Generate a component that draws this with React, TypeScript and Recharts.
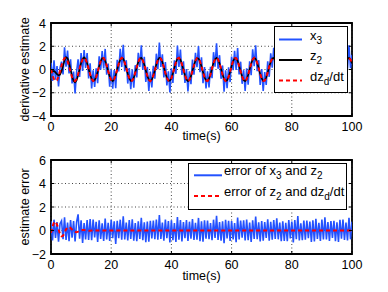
import { LineChart, Line, XAxis, YAxis, CartesianGrid, ReferenceArea, Legend, Label } from 'recharts'

// sample spacing of every series below (s)
const STEP = 0.5

// desired derivative dz_d/dt
const dzdDt = [
  0, -0.48, -0.84, -1, -0.91, -0.6, -0.14, 0.35, 0.76, 0.98,
  0.96, 0.71, 0.28, -0.22, -0.66, -0.94, -0.99, -0.8, -0.41, 0.08,
  0.54, 0.88, 1, 0.88, 0.54, 0.07, -0.42, -0.8, -0.99, -0.93,
  -0.65, -0.21, 0.29, 0.71, 0.96, 0.98, 0.75, 0.34, -0.15, -0.61,
  -0.91, -1, -0.84, -0.47, 0.01, 0.49, 0.85, 1, 0.91, 0.59,
  0.13, -0.36, -0.76, -0.98, -0.96, -0.7, -0.27, 0.22, 0.66, 0.94,
  0.99, 0.79, 0.4, -0.08, -0.55, -0.88, -1, -0.87, -0.53, -0.06,
  0.43, 0.81, 0.99, 0.93, 0.64, 0.2, -0.3, -0.72, -0.96, -0.97,
  -0.75, -0.33, 0.16, 0.61, 0.92, 1, 0.83, 0.46, -0.02, -0.49,
  -0.85, -1, -0.9, -0.58, -0.12, 0.37, 0.77, 0.98, 0.95, 0.69,
  0.26, -0.23, -0.67, -0.94, -0.99, -0.79, -0.4, 0.09, 0.56, 0.89,
  1, 0.87, 0.52, 0.05, -0.44, -0.81, -0.99, -0.93, -0.64, -0.19,
  0.3, 0.72, 0.97, 0.97, 0.74, 0.33, -0.17, -0.62, -0.92, -1,
  -0.83, -0.46, 0.03, 0.5, 0.86, 1, 0.9, 0.58, 0.11, -0.38,
  -0.77, -0.98, -0.95, -0.69, -0.25, 0.24, 0.68, 0.95, 0.99, 0.78,
  0.39, -0.1, -0.57, -0.89, -1, -0.86, -0.51, -0.04, 0.44, 0.82,
  0.99, 0.93, 0.63, 0.18, -0.31, -0.73, -0.97, -0.97, -0.73, -0.32,
  0.18, 0.63, 0.92, 0.99, 0.82, 0.45, -0.04, -0.51, -0.86, -1,
  -0.89, -0.57, -0.11, 0.38, 0.78, 0.98, 0.95, 0.68, 0.25, -0.25,
  -0.68, -0.95, -0.98, -0.78, -0.38, 0.11, 0.57, 0.9, 1, 0.86,
  0.51,
]

// error of z2 and dz_d/dt (red dashed, lower panel): start-up transient then ~0
const errZ2 = [
  -0.2, 0.35, 0.7, 0.75, 0.5, 0.1, -0.3, -0.5, -0.45, -0.2,
  0.1, 0.25, 0.3, 0.22, 0.08, -0.05, -0.12, -0.14, -0.1, -0.04,
  0.02, 0.04, 0.04, 0.02, -0.01, -0.02, -0.02, -0.01, 0, 0.01,
  0.01, 0, -0.01, 0, 0.01, 0, 0, -0.01, 0, 0.01,
  0, 0, 0.01, 0, -0.01, 0, 0, 0, 0.01, 0,
  0, -0.01, 0, 0, 0.01, 0, 0, 0, -0.01, 0,
  0.01, 0, 0, 0, 0, -0.01, 0, 0.01, 0, 0,
  0, 0, 0.01, 0, 0, -0.01, 0, 0, 0, 0.01,
  0, 0, 0, -0.01, 0, 0, 0.01, 0, 0, 0,
  -0.01, 0, 0, 0.01, 0, 0, 0, 0, -0.01, 0,
  0, 0.01, 0, 0, 0, -0.01, 0, 0, 0.01, 0,
  0, 0, 0, 0.01, 0, -0.01, 0, 0, 0, 0,
  0.01, 0, 0, -0.01, 0, 0, 0, 0.01, 0, 0,
  0, -0.01, 0, 0, 0.01, 0, 0, 0, 0, -0.01,
  0, 0, 0.01, 0, 0, 0, -0.01, 0, 0, 0.01,
  0, 0, 0, 0, -0.01, 0, 0.01, 0, 0, 0,
  0, -0.01, 0, 0, 0, 0.01, 0, 0, -0.01, 0,
  0, 0, 0.01, 0, 0, 0, 0, -0.01, 0, 0,
  0.01, 0, 0, 0, -0.01, 0, 0, 0.01, 0, 0,
  0, 0, -0.01, 0, 0.01, 0, 0, 0, 0, 0.01,
  0,
]

// error of x3 and z2 (blue, lower panel): measurement noise
const errX3 = [
  0.78, -0.85, 0.92, -0.63, 0.71, -0.96, 0.58, 0.83, -0.74, 1.12,
  -0.81, 0.67, -0.92, 0.88, -0.61, 0.81, -0.94, 0.72, 1.38, -0.69,
  0.86, -1.05, 0.64, -0.77, 0.88, -0.81, 0.97, -0.82, 0.93, -0.58,
  0.74, -0.97, 0.86, -0.72, 0.61, -0.89, 1.02, -0.77, 0.66, -0.88,
  0.91, -0.66, 0.79, -1.14, 0.83, -0.65, 0.92, -0.78, 1.21, -0.76,
  0.67, -0.84, 0.88, -0.71, 0.95, -0.86, 0.64, -0.91, 0.79, -0.72,
  1.08, -0.83, 0.69, -0.99, 0.77, -0.96, 0.82, -0.68, 0.85, -0.73,
  0.93, -0.79, 1.32, -0.71, 0.67, -0.87, 0.94, -0.65, 0.81, -1.02,
  0.86, -0.82, 0.63, -0.97, 1.15, -0.78, 0.88, -0.93, 0.72, -0.66,
  0.89, -0.88, 0.75, -0.69, 0.97, -0.81, 0.66, -0.78, 1.07, -0.92,
  0.78, -0.95, 0.87, -0.69, 0.84, -0.74, 0.63, -0.83, 0.92, -0.64,
  1.26, -0.81, 0.71, -0.86, 0.79, -1.08, 0.92, -0.67, 0.83, -0.89,
  0.81, -0.77, 0.64, -0.99, 1.11, -0.76, 0.84, -0.62, 0.86, -0.85,
  0.93, -0.83, 0.68, -0.98, 0.87, -0.71, 1.19, -0.73, 0.69, -0.94,
  0.81, -0.86, 0.72, -0.64, 0.96, -0.87, 0.73, -0.79, 0.88, -0.71,
  1.04, -0.75, 0.67, -0.92, 0.78, -0.88, 0.66, -0.91, 0.89, -0.68,
  0.77, -1.01, 0.89, -0.73, 1.23, -0.84, 0.61, -0.82, 0.84, -0.79,
  0.85, -0.66, 0.77, -0.97, 0.86, -0.94, 0.99, -0.72, 0.65, -0.88,
  0.94, -0.77, 1.13, -0.76, 0.72, -0.88, 0.81, -0.63, 0.83, -0.92,
  0.7, -0.97, 0.91, -0.7, 0.93, -0.8, 0.68, -0.84, 1.09, -0.75,
  0.75,
]

const xTicks = [0, 20, 40, 60, 80, 100]
const topYTicks = [-4, -2, 0, 2, 4]
const bottomYTicks = [-2, 0, 2, 4, 6]

// z2 = dz_d/dt + its error, x3 = z2 + its error
const rows = dzdDt.map((d, i) => {
  const z2 = d + errZ2[i]
  return { t: i * STEP, dzd: d, z2, x3: z2 + errX3[i], e1: errX3[i], e2: errZ2[i] }
})

const FONT = '"Liberation Sans", Arial, Helvetica, sans-serif'
const BLUE = '#2352ff'
const RED = '#ff0000'
const PLOT_LEFT = 51
const PLOT_RIGHT = 352
const PLOT_W = PLOT_RIGHT - PLOT_LEFT
const X_MARGIN = 6
const Y_MARGIN = 5

const fmt = (v: number) => (v < 0 ? `\u2212${Math.abs(v)}` : `${v}`)

// matlab-ish ticks: label outside, short mark inward on both opposite edges
const xTick = (plotH: number) => (props: any) => {
  const { x, y, payload } = props
  const bottom = y - X_MARGIN
  const top = bottom - plotH
  return (
    <g>
      <line x1={x} x2={x} y1={bottom} y2={bottom - 3} stroke="#000" />
      <line x1={x} x2={x} y1={top} y2={top + 3} stroke="#000" />
      <text x={x} y={y} dy="0.71em" textAnchor="middle" fontSize={12.5} fontFamily={FONT} fill="#000">
        {payload.value}
      </text>
    </g>
  )
}

const yTick = (props: any) => {
  const { x, y, payload } = props
  const left = x + Y_MARGIN
  return (
    <g>
      <line x1={left} x2={left + 3} y1={y} y2={y} stroke="#000" />
      <line x1={left + PLOT_W} x2={left + PLOT_W - 3} y1={y} y2={y} stroke="#000" />
      <text x={x} y={y} dy="0.36em" textAnchor="end" fontSize={12.5} fontFamily={FONT} fill="#000">
        {fmt(payload.value)}
      </text>
    </g>
  )
}

function richText(label: string) {
  const parts = label.split(/_(\w)/)
  let shifted = false
  return parts.map((p, i) => {
    if (i % 2 === 1) {
      shifted = true
      return <tspan key={i} dy={4} fontSize={10}>{p}</tspan>
    }
    const dy = shifted ? -4 : 0
    shifted = false
    return p ? <tspan key={i} dy={dy}>{p}</tspan> : null
  })
}

type Item = { label: string; color: string; dash?: string }

function LegendBox({ items, width, height, rowY, lineX, textX }: {
  items: Item[]; width: number; height: number; rowY: number[]; lineX: [number, number]; textX: number
}) {
  return (
    <svg width={width} height={height} style={{ display: 'block' }}>
      <rect x={0.5} y={0.5} width={width - 1} height={height - 1} fill="#fff" stroke="#000" />
      {items.map((it, i) => (
        <g key={i}>
          <line x1={lineX[0]} x2={lineX[1]} y1={rowY[i]} y2={rowY[i]} stroke={it.color} strokeWidth={2} strokeDasharray={it.dash} />
          <text x={textX} y={rowY[i]} dy="0.36em" fontSize={13} fontFamily={FONT} fill="#000">
            {richText(it.label)}
          </text>
        </g>
      ))}
    </svg>
  )
}

const topItems: Item[] = [
  { label: 'x_3', color: BLUE },
  { label: 'z_2', color: '#000' },
  { label: 'dz_d/dt', color: RED, dash: '4 3' },
]
const bottomItems: Item[] = [
  { label: 'error of x_3 and z_2', color: BLUE },
  { label: 'error of z_2 and dz_d/dt', color: RED, dash: '4 3' },
]

const axisTitle = (text: string, x: number, y: number, rotate = false) => () => (
  <text
    x={x}
    y={y}
    textAnchor="middle"
    dominantBaseline={rotate ? 'central' : undefined}
    transform={rotate ? `rotate(-90 ${x} ${y})` : undefined}
    fontSize={12.5}
    fontFamily={FONT}
    fill="#000"
  >
    {text}
  </text>
)

export default function App() {
  const topH = 146
  const topMargin = { top: 23, right: 388 - PLOT_RIGHT, bottom: 0, left: 0 }
  const topPlotH = topH - topMargin.top - 30
  const botH = 138
  const botMargin = { top: 14, right: 388 - PLOT_RIGHT, bottom: 0, left: 0 }
  const botPlotH = botH - botMargin.top - 30

  return (
    <div style={{ position: 'absolute', left: 0, top: 0, width: 388, height: 292, background: '#fff' }}>
      <div style={{ position: 'absolute', left: 0, top: 0 }}>
        <LineChart width={388} height={topH} data={rows} margin={topMargin}>
          <CartesianGrid stroke="#444" strokeDasharray="1 2.5" />
          <XAxis dataKey="t" type="number" domain={[0, 100]} ticks={xTicks} allowDataOverflow
            axisLine={false} tickLine={false} tickSize={0} tickMargin={X_MARGIN} height={30} tick={xTick(topPlotH)}>
            <Label content={axisTitle('time(s)', (PLOT_LEFT + PLOT_RIGHT) / 2, topMargin.top + topPlotH + 24)} />
          </XAxis>
          <YAxis type="number" domain={[-4, 4]} ticks={topYTicks} allowDataOverflow width={PLOT_LEFT}
            axisLine={false} tickLine={false} tickSize={0} tickMargin={Y_MARGIN} tick={yTick}>
            <Label content={axisTitle('derivative estimate', 25, topMargin.top + topPlotH / 2, true)} />
          </YAxis>
          <Line dataKey="x3" stroke={BLUE} strokeWidth={1.6} dot={false} isAnimationActive={false} />
          <Line dataKey="z2" stroke="#000" strokeWidth={1.6} dot={false} isAnimationActive={false} />
          <Line dataKey="dzd" stroke={RED} strokeWidth={2} strokeDasharray="4 3" dot={false} isAnimationActive={false} />
          <ReferenceArea x1={0} x2={100} y1={-4} y2={4} fill="none" stroke="#000" strokeWidth={1.8} ifOverflow="visible" />
          <Legend layout="vertical" align="center" verticalAlign="middle"
            wrapperStyle={{ left: 274, top: 26, width: 74, height: 67 }}
            content={() => <LegendBox items={topItems} width={74} height={67} rowY={[13.5, 34, 54.5]} lineX={[5, 28]} textX={36} />} />
        </LineChart>
      </div>
      <div style={{ position: 'absolute', left: 0, top: 146 }}>
        <LineChart width={388} height={botH} data={rows} margin={botMargin}>
          <CartesianGrid stroke="#444" strokeDasharray="1 2.5" />
          <XAxis dataKey="t" type="number" domain={[0, 100]} ticks={xTicks} allowDataOverflow
            axisLine={false} tickLine={false} tickSize={0} tickMargin={X_MARGIN} height={30} tick={xTick(botPlotH)}>
            <Label content={axisTitle('time(s)', (PLOT_LEFT + PLOT_RIGHT) / 2, botMargin.top + botPlotH + 26)} />
          </XAxis>
          <YAxis type="number" domain={[-2, 6]} ticks={bottomYTicks} allowDataOverflow width={PLOT_LEFT}
            axisLine={false} tickLine={false} tickSize={0} tickMargin={Y_MARGIN} tick={yTick}>
            <Label content={axisTitle('estimate error', 25, botMargin.top + botPlotH / 2, true)} />
          </YAxis>
          <Line dataKey="e1" stroke={BLUE} strokeWidth={1.6} dot={false} isAnimationActive={false} />
          <Line dataKey="e2" stroke={RED} strokeWidth={2} strokeDasharray="4 3" dot={false} isAnimationActive={false} />
          <ReferenceArea x1={0} x2={100} y1={-2} y2={6} fill="none" stroke="#000" strokeWidth={1.8} ifOverflow="visible" />
          <Legend layout="vertical" align="center" verticalAlign="middle"
            wrapperStyle={{ left: 188, top: 17, width: 159, height: 47 }}
            content={() => <LegendBox items={bottomItems} width={159} height={47} rowY={[12.3, 33]} lineX={[6, 34]} textX={36} />} />
        </LineChart>
      </div>
    </div>
  )
}
